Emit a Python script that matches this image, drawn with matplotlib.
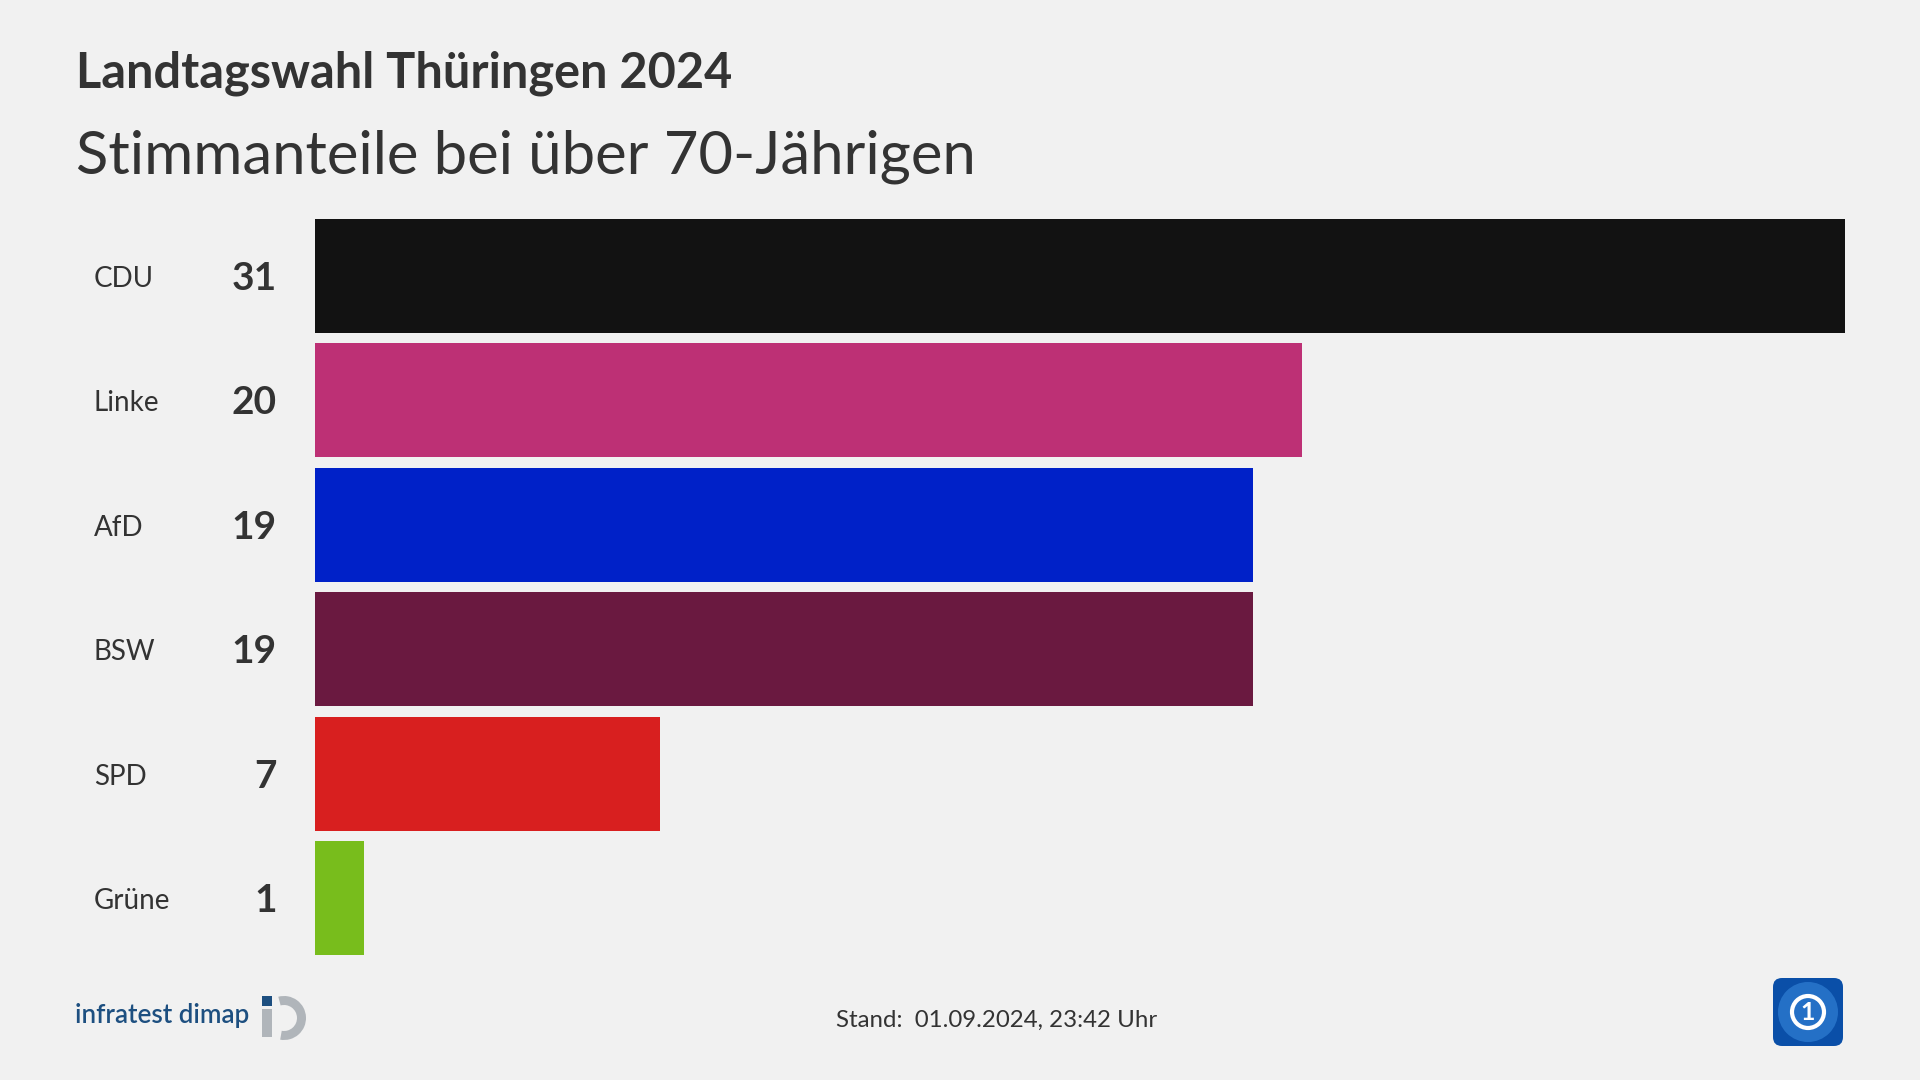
"""Landtagswahl Thüringen 2024 – Stimmanteile bei über 70-Jährigen (horizontal bars)."""
import matplotlib.pyplot as plt
import matplotlib.patches as mpatches
from matplotlib.transforms import blended_transform_factory, offset_copy

parties = ["CDU", "Linke", "AfD", "BSW", "SPD", "Grüne"]
shares = [31, 20, 19, 19, 7, 1]
colors = ["#121212", "#bd3075", "#0021c8", "#6a1940", "#d81f1f", "#78bd1c"]

title = "Landtagswahl Thüringen 2024"
subtitle = "Stimmanteile bei über 70-Jährigen"
footer = "Stand:  01.09.2024, 23:42 Uhr"

BG = "#f1f1f1"
TXT = "#333333"
FONT = ["Lato", "DejaVu Sans"]

W, H = 1920, 1080
plt.rcParams["font.family"] = FONT
fig = plt.figure(figsize=(W / 100, H / 100), dpi=100, facecolor=BG)

# bar area in pixels: x 315..1845, bars from y=219 to y=955
pitch = (955 - 219) / (len(parties) - 0.0834)
ax_top = 219 - pitch * (1 - 0.9166) / 2
ax_h = pitch * len(parties)
ax = fig.add_axes([315 / W, 1 - (ax_top + ax_h) / H, 1530 / W, ax_h / H])
ax.set_facecolor(BG)
ypos = list(range(len(parties)))
ax.barh(ypos, shares, height=0.9166, color=colors, linewidth=0)
ax.set_xlim(0, max(shares))
ax.set_ylim(len(parties) - 0.5, -0.5)
ax.axis("off")

tr = blended_transform_factory(fig.transFigure, ax.transData)
tr_lab = offset_copy(tr, fig=fig, y=-11, units="dots")
tr_num = offset_copy(tr, fig=fig, y=-14, units="dots")
for y, p, v in zip(ypos, parties, shares):
    ax.text(94 / W, y, p, transform=tr_lab, ha="left", va="baseline",
            fontsize=20, color=TXT)
    ax.text(277 / W, y, f"{v}", transform=tr_num, ha="right", va="baseline",
            fontsize=28, fontweight="bold", color=TXT)

fig.text(76 / W, 1 - 88 / H, title, fontsize=35, fontweight="bold",
         color=TXT, va="baseline", ha="left")
fig.text(76 / W, 1 - 173 / H, subtitle, fontsize=43, color=TXT,
         va="baseline", ha="left")
fig.text(997 / W, 1 - 1027 / H, footer, fontsize=17.3, color=TXT,
         va="baseline", ha="center")

# infratest dimap logo (approximation)
fig.text(75 / W, 1 - 1023 / H, "infratest dimap", fontsize=18.7,
         fontweight="semibold", color="#1d4f80", va="baseline", ha="left")
lax = fig.add_axes([0, 0, 1, 1], facecolor="none")
lax.set_xlim(0, W)
lax.set_ylim(H, 0)
lax.axis("off")
lax.add_patch(mpatches.Rectangle((262, 996), 10, 10, color="#1d4f80", lw=0))
lax.add_patch(mpatches.Rectangle((262, 1009), 10, 28, color="#b0b5ba", lw=0))
lax.add_patch(mpatches.Wedge((284, 1018), 22, -105, 100, width=9,
                             color="#b0b5ba", lw=0))

# ARD / tagesschau app icon (approximation)
lax.add_patch(mpatches.FancyBboxPatch((1773, 978), 70, 68,
                                      boxstyle="round,pad=0,rounding_size=9",
                                      color="#0a4fa8", lw=0))
lax.add_patch(mpatches.Circle((1808, 1012), 30, color="#3a8ce0", lw=0, alpha=0.55))
lax.add_patch(mpatches.Circle((1808, 1012), 16, fill=False, ec="white", lw=3))
lax.text(1808, 1013, "1", color="white", fontsize=18, fontweight="bold",
         ha="center", va="center")

fig.savefig("out.png", dpi=100, facecolor=BG)
